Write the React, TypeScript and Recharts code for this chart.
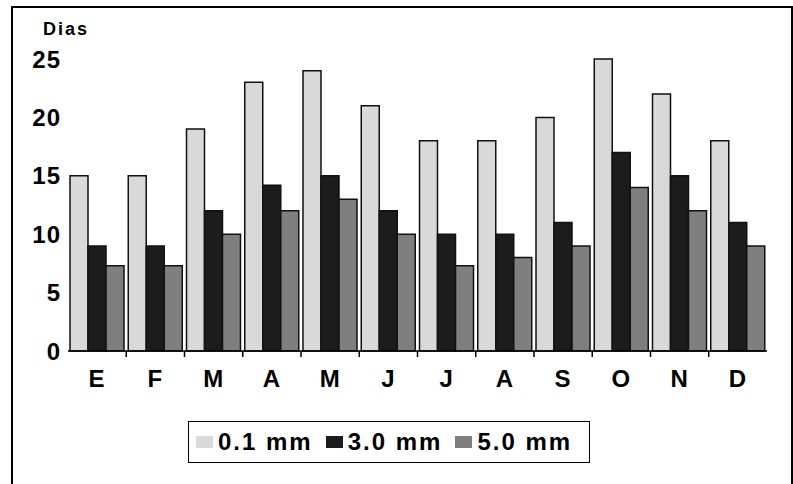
import { BarChart, Bar, XAxis, YAxis, Legend } from 'recharts';

const meses = ['E', 'F', 'M', 'A', 'M', 'J', 'J', 'A', 'S', 'O', 'N', 'D'];
const lluvia01 = [15, 15, 19, 23, 24, 21, 18, 18, 20, 25, 22, 18];
const lluvia30 = [9, 9, 12, 14.2, 15, 12, 10, 10, 11, 17, 15, 11];
const lluvia50 = [7.3, 7.3, 10, 12, 13, 10, 7.3, 8, 9, 14, 12, 9];
const yTicks = [0, 5, 10, 15, 20, 25];

const series = [
  { key: 'a', name: '0.1 mm', color: '#d9d9d9' },
  { key: 'b', name: '3.0 mm', color: '#1c1c1c' },
  { key: 'c', name: '5.0 mm', color: '#7f7f7f' },
];

const data = meses.map((mes, i) => ({ mes, a: lluvia01[i], b: lluvia30[i], c: lluvia50[i] }));

const FONT = '"Liberation Sans", Arial, sans-serif';

function MesTick({ x, y, payload, index, width, visibleTicksCount }: any) {
  const step = width / visibleTicksCount;
  const axisY = y - 8;
  return (
    <g>
      {index < visibleTicksCount - 1 && (
        <line x1={x + step / 2} x2={x + step / 2} y1={axisY} y2={axisY + 6} stroke="#000" strokeWidth={1.5} />
      )}
      <text x={x} y={y + 11} dy="0.71em" textAnchor="middle" fontSize={24} fontWeight="bold" fontFamily={FONT} fill="#000" letterSpacing={1}>
        {payload.value}
      </text>
    </g>
  );
}

function Leyenda({ payload }: any) {
  return (
    <div style={{ display: 'flex', alignItems: 'center', border: '1.5px solid #000', height: 42, boxSizing: 'border-box', padding: '0 7px', background: '#fff', fontFamily: FONT, fontWeight: 'bold', fontSize: 24, letterSpacing: 2, whiteSpace: 'nowrap' }}>
      {(payload || []).map((p: any, i: number) => (
        <span key={p.value} style={{ display: 'flex', alignItems: 'center', flexShrink: 0, marginRight: i < payload.length - 1 ? 13 : 0 }}>
          <span style={{ width: 17, height: 12, background: p.color, display: 'inline-block', marginRight: 5 }} />
          <span>{p.value}</span>
        </span>
      ))}
    </div>
  );
}

export default function App() {
  return (
    <div style={{ position: 'absolute', left: 0, top: 0, width: 793, height: 484, background: '#fff', overflow: 'hidden' }}>
      <div style={{ position: 'absolute', left: 11, top: 6, width: 782, height: 520, boxSizing: 'border-box', border: '2px solid #000' }} />
      <div style={{ position: 'absolute', left: 43, top: 19, fontFamily: FONT, fontWeight: 'bold', fontSize: 18, letterSpacing: 2 }}>Dias</div>
      <div style={{ position: 'absolute', left: 0, top: 0 }}>
        <BarChart width={793} height={484} data={data} margin={{ top: 59, right: 26, left: 0, bottom: 93 }} barGap={0} barCategoryGap={2}>
          <XAxis dataKey="mes" height={40} axisLine={{ stroke: '#000', strokeWidth: 1.5 }} tickLine={false} tick={<MesTick />} interval={0} />
          <YAxis width={68} domain={[0, 25]} ticks={yTicks} axisLine={false} tickLine={false} tickMargin={1}
            tick={{ fontSize: 24, fontWeight: 'bold', fontFamily: FONT, fill: '#000', letterSpacing: 1 }} />
          <Legend layout="vertical" align="center" verticalAlign="middle" content={<Leyenda />}
            wrapperStyle={{ position: 'absolute', left: 188, top: 421, width: 402, height: 42 }} />
          {series.map((s) => (
            <Bar key={s.key} dataKey={s.key} name={s.name} fill={s.color} stroke="#111" strokeWidth={1.5} isAnimationActive={false} />
          ))}
        </BarChart>
      </div>
    </div>
  );
}
